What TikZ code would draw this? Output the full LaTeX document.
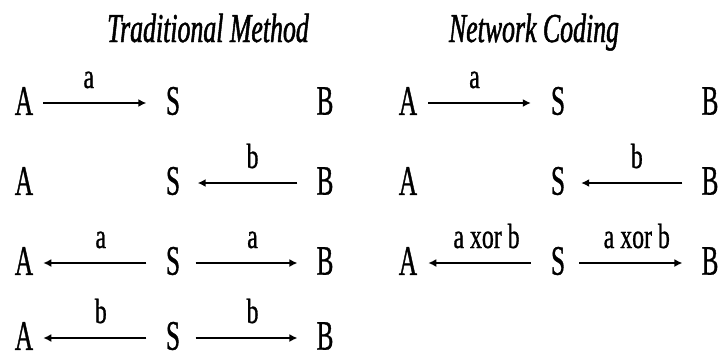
\documentclass[tikz,border=0pt]{standalone}
\usepackage{fontspec}
\setmainfont{Liberation Serif}
\newfontfamily\nodefont[FakeStretch=0.6,FakeBold=0.8]{Liberation Serif}
\newfontfamily\labfont[FakeStretch=0.68,FakeBold=0.8]{Liberation Serif}
\newfontfamily\titfont[FakeStretch=0.63,FakeBold=1.2]{Liberation Serif}
\usetikzlibrary{arrows.meta}
\begin{document}
\begin{tikzpicture}[x=1pt,y=-1pt,
  pt/.style={inner sep=0pt, font=\nodefont\fontsize{42}{42}\selectfont},
  lab/.style={inner sep=0pt, anchor=base, yshift=15pt, font=\labfont\fontsize{35}{35}\selectfont},
  ttl/.style={inner sep=0pt, anchor=base, font=\titfont\itshape\fontsize{41}{41}\selectfont},
  arr/.style={line width=1.5pt, -{Latex[length=8pt,width=8pt]}}]
\useasboundingbox (0,0) rectangle (719,356);
% titles
\node[ttl] (t1) at (208,42) {Traditional Method};
\node[ttl] (t2) at (534,42) {Network Coding};
% left panel nodes
\foreach \r/\y in {1/101,2/181,3/261,4/336}{
  \node[pt] (LA\r) at (24,\y) {A};
  \node[pt] (LS\r) at (173,\y) {S};
  \node[pt] (LB\r) at (325,\y) {B};
}
% right panel nodes
\foreach \r/\y in {1/101,2/181,3/261}{
  \node[pt] (RA\r) at (408,\y) {A};
  \node[pt] (RS\r) at (558,\y) {S};
  \node[pt] (RB\r) at (710,\y) {B};
}
% left panel arrows
\draw[arr] ([shift={(10pt,-2pt)}]LA1.east) -- node[lab,xshift=-6pt]{a} ([shift={(-19.5pt,-2pt)}]LS1.west);
\draw[arr] ([shift={(-19pt,-2pt)}]LB2.west) -- node[lab,xshift=5pt]{b} ([shift={(17.5pt,-2pt)}]LS2.east);
\draw[arr] ([shift={(-19.5pt,-2pt)}]LS3.west) -- node[lab,xshift=6pt]{a} ([shift={(10pt,-2pt)}]LA3.east);
\draw[arr] ([shift={(15.5pt,-2pt)}]LS3.east) -- node[lab,xshift=6pt]{a} ([shift={(-19pt,-2pt)}]LB3.west);
\draw[arr] ([shift={(-19.5pt,-2pt)}]LS4.west) -- node[lab,xshift=6pt]{b} ([shift={(10pt,-2pt)}]LA4.east);
\draw[arr] ([shift={(15.5pt,-2pt)}]LS4.east) -- node[lab,xshift=6pt]{b} ([shift={(-19pt,-2pt)}]LB4.west);
% right panel arrows
\draw[arr] ([shift={(11pt,-2pt)}]RA1.east) -- node[lab,xshift=-5pt]{a} ([shift={(-20pt,-2pt)}]RS1.west);
\draw[arr] ([shift={(-19pt,-2pt)}]RB2.west) -- node[lab,xshift=5pt]{b} ([shift={(16pt,-2pt)}]RS2.east);
\draw[arr] ([shift={(-20pt,-2pt)}]RS3.west) -- node[lab,xshift=7pt]{a xor b} ([shift={(11pt,-2pt)}]RA3.east);
\draw[arr] ([shift={(14pt,-2pt)}]RS3.east) -- node[lab,xshift=6pt]{a xor b} ([shift={(-19pt,-2pt)}]RB3.west);
\end{tikzpicture}
\end{document}
